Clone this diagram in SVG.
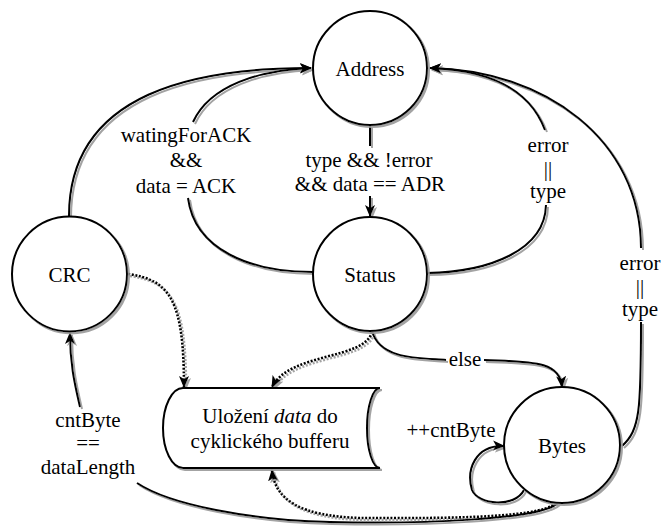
<svg xmlns="http://www.w3.org/2000/svg" width="663" height="526" viewBox="0 0 663 526">
<style>
.t{font-size:21px;fill:#000;text-anchor:middle}
.node{fill:#fff;stroke:#000;stroke-width:2}
.c{fill:none;stroke:#000;stroke-width:2}
.d{fill:none;stroke:#000;stroke-width:2.6;stroke-dasharray:2 1.6}
.arr{marker-end:url(#ah)}
</style>
<defs>
<filter id="sh" x="-10%" y="-10%" width="130%" height="130%">
<feDropShadow dx="2" dy="2" stdDeviation="0.7" flood-color="#999" flood-opacity="0.9"/>
</filter>
<marker id="ah" viewBox="0 0 12 12" refX="11" refY="6" markerWidth="12" markerHeight="12" markerUnits="userSpaceOnUse" orient="auto">
<path d="M0,1 L12,6 L0,11 L3,6 z" fill="#000"/>
</marker>
</defs>
<g id="connectors" filter="url(#sh)">
<path class="c arr" d="M 69 216 C 69 90, 200 68, 311 68"/>
<path class="c arr" d="M 193 122 C 210 85, 260 70, 311 68"/>
<path class="c" d="M 188 198 C 195 250, 250 272, 313 272"/>
<path class="c" d="M 370 126 L 370 146"/>
<path class="c arr" d="M 370 196 L 370 216"/>
<path class="c" d="M 427 273 C 490 272, 545 250, 546 205"/>
<path class="c arr" d="M 545 130 C 530 90, 490 70, 430 68"/>
<path class="c arr" d="M 641 248 C 641 140, 545 70, 430 68"/>
<path class="c" d="M 622 446 C 640 430, 641 410, 641 322"/>
<path class="c" d="M 372 331 C 380 360, 420 358, 446 360"/>
<path class="c arr" d="M 484 360 C 530 362, 560 360, 562 387"/>
<path class="c arr" d="M 524 490 C 515 508, 478 505, 472 490 C 466 470, 475 445, 504 446"/>
<path class="c" d="M 558 503 C 540 520, 420 524, 330 522 C 250 520, 170 505, 137 483"/>
<path class="c arr" d="M 80 407 C 75 385, 70 365, 70 333"/>
<path class="d arr" d="M 128 274 C 170 280, 184 300, 184 387"/>
<path class="d arr" d="M 372 332 C 365 360, 290 352, 272 387"/>
<path class="d arr" d="M 556 503 C 540 520, 420 518, 360 518 C 300 516, 275 500, 272 470"/>
</g>
<g id="labels">
<text class="t" font-family="Liberation Serif" x="186" y="142">watingForACK</text>
<text class="t" font-family="Liberation Serif" x="186" y="167">&amp;&amp;</text>
<text class="t" font-family="Liberation Serif" x="186" y="193">data = ACK</text>
<text class="t" font-family="Liberation Serif" x="369" y="167">type &amp;&amp; !error</text>
<text class="t" font-family="Liberation Serif" x="370" y="191">&amp;&amp; data == ADR</text>
<text class="t" font-family="Liberation Serif" x="548" y="152">error</text>
<text class="t" font-family="Liberation Serif" x="548" y="176">||</text>
<text class="t" font-family="Liberation Serif" x="548" y="198">type</text>
<text class="t" font-family="Liberation Serif" x="640" y="270">error</text>
<text class="t" font-family="Liberation Serif" x="640" y="294">||</text>
<text class="t" font-family="Liberation Serif" x="640" y="316">type</text>
<text class="t" font-family="Liberation Serif" x="465" y="366">else</text>
<text class="t" font-family="Liberation Serif" x="451" y="437">++cntByte</text>
<text class="t" font-family="Liberation Serif" x="88" y="427">cntByte</text>
<text class="t" font-family="Liberation Serif" x="88" y="450">==</text>
<text class="t" font-family="Liberation Serif" x="88" y="474">dataLength</text>
</g>
<g id="Address"><circle class="node" cx="370" cy="68" r="57" filter="url(#sh)"/><text class="t" font-family="Liberation Serif" x="370" y="76">Address</text></g>
<g id="Status"><circle class="node" cx="370" cy="274" r="57" filter="url(#sh)"/><text class="t" font-family="Liberation Serif" x="370" y="282">Status</text></g>
<g id="CRC"><circle class="node" cx="69.5" cy="274" r="57.5" filter="url(#sh)"/><text class="t" font-family="Liberation Serif" x="69.5" y="282">CRC</text></g>
<g id="Bytes"><circle class="node" cx="562" cy="445" r="58" filter="url(#sh)"/><text class="t" font-family="Liberation Serif" x="562" y="453">Bytes</text></g>
<g id="buffer">
<path class="node" filter="url(#sh)" d="M 183 388 L 380 388 A 13 40 0 0 0 380 468 L 183 468 A 20 40 0 0 1 183 388 Z"/>
<text class="t" font-family="Liberation Serif" x="270" y="423">Uložení <tspan font-style="italic">data</tspan> do</text>
<text class="t" font-family="Liberation Serif" x="270" y="448">cyklického bufferu</text>
</g>
</svg>
